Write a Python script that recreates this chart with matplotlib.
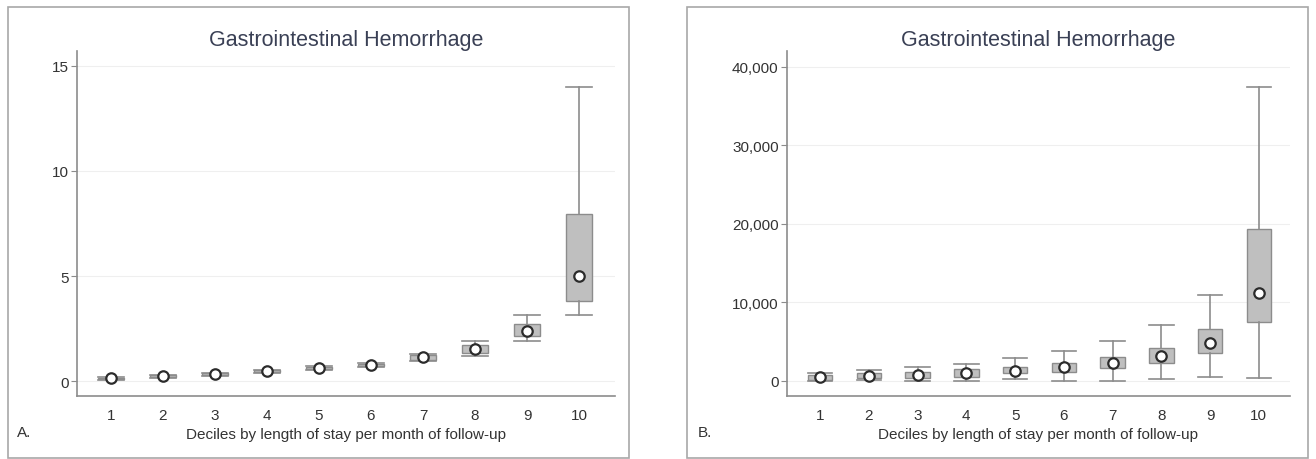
import matplotlib
matplotlib.use("Agg")
from matplotlib import pyplot as plt
from matplotlib.patches import Rectangle
from matplotlib.ticker import FuncFormatter

plt.rcParams['font.family'] = ['Liberation Sans', 'DejaVu Sans']

deciles = [1, 2, 3, 4, 5, 6, 7, 8, 9, 10]
xlabel = 'Deciles by length of stay per month of follow-up'
title = 'Gastrointestinal Hemorrhage'

# panel A: rate per month of follow-up
a_low = [0.06, 0.16, 0.26, 0.38, 0.53, 0.66, 0.95, 1.2, 1.9, 3.14]
a_q1 = [0.1, 0.2, 0.3, 0.42, 0.57, 0.7, 1.0, 1.33, 2.14, 3.8]
a_mid = [0.14, 0.24, 0.33, 0.47, 0.62, 0.76, 1.14, 1.52, 2.38, 5.0]
a_q3 = [0.17, 0.28, 0.37, 0.51, 0.66, 0.83, 1.22, 1.71, 2.71, 7.95]
a_high = [0.2, 0.31, 0.4, 0.55, 0.7, 0.88, 1.3, 1.9, 3.14, 14.0]

# panel B: costs
b_low = [0, 130, 0, 0, 250, 0, 0, 250, 500, 380]
b_q1 = [130, 380, 380, 510, 1020, 1150, 1650, 2300, 3550, 7500]
b_mid = [510, 640, 760, 1020, 1270, 1780, 2300, 3180, 4840, 11200]
b_q3 = [760, 1020, 1150, 1530, 1780, 2300, 3050, 4200, 6600, 19400]
b_high = [1020, 1400, 1780, 2170, 2930, 3820, 5100, 7130, 10950, 37450]

grey = '#8c8c8c'


def draw_panel(ax, low, q1, mid, q3, high, yticks, ylim, xlim, fmt):
    stats = []
    for i in range(len(deciles)):
        stats.append({'whislo': low[i], 'q1': q1[i], 'med': mid[i],
                      'q3': q3[i], 'whishi': high[i], 'fliers': []})
    ax.bxp(stats, positions=deciles, widths=0.5, patch_artist=True,
           showfliers=False,
           boxprops=dict(facecolor='#bfbfbf', edgecolor=grey, linewidth=1),
           whiskerprops=dict(color=grey, linewidth=1.2),
           capprops=dict(color=grey, linewidth=1.2),
           medianprops=dict(linewidth=0), capwidths=0.5)
    ax.plot(deciles, mid, 'o', markersize=7.5, markerfacecolor='white',
            markeredgecolor='#2b2b2b', markeredgewidth=1.6, zorder=5)

    ax.set_xlim(*xlim)
    ax.set_ylim(*ylim)
    ax.set_yticks(yticks)
    ax.yaxis.set_major_formatter(FuncFormatter(fmt))
    ax.set_xticks(deciles)
    ax.set_xticklabels([str(d) for d in deciles])
    ax.grid(axis='y', color='#efefef', linewidth=0.8)
    ax.set_axisbelow(True)
    for s in ['top', 'right']:
        ax.spines[s].set_visible(False)
    for s in ['left', 'bottom']:
        ax.spines[s].set_color(grey)
        ax.spines[s].set_linewidth(1.2)
    ax.tick_params(axis='y', length=4, color=grey, labelsize=11,
                   labelcolor='#333333', pad=2)
    ax.tick_params(axis='x', length=0, labelsize=11,
                   labelcolor='#333333', pad=9)
    ax.set_title(title, fontsize=15.5, color='#3a4055', pad=4)
    ax.set_xlabel(xlabel, fontsize=11, color='#333333', labelpad=3)


fig = plt.figure(figsize=(13.16, 4.6), dpi=100)
W, H = 1316, 460

# frames round the two panels
for x0, x1 in [(8, 629), (687, 1308)]:
    fig.patches.append(Rectangle((x0 / W, 1 - 459 / H), (x1 - x0) / W,
                                 (459 - 8) / H, transform=fig.transFigure,
                                 fill=False, edgecolor='#a8a8a8',
                                 linewidth=1.2))

ax1 = fig.add_axes([77 / W, 1 - 397 / H, (615 - 77) / W, (397 - 52) / H])
draw_panel(ax1, a_low, a_q1, a_mid, a_q3, a_high, [0, 5, 10, 15],
           (-0.71, 15.71), (0.35, 10.69), lambda v, p: f'{v:g}')

ax2 = fig.add_axes([787 / W, 1 - 397 / H, (1290 - 787) / W, (397 - 52) / H])
draw_panel(ax2, b_low, b_q1, b_mid, b_q3, b_high,
           [0, 10000, 20000, 30000, 40000], (-1911, 42038), (0.32, 10.64),
           lambda v, p: f'{v:,.0f}')

fig.text(17 / W, 1 - 433 / H, 'A.', fontsize=11, color='#333333',
         va='center')
fig.text(698 / W, 1 - 433 / H, 'B.', fontsize=11, color='#333333',
         va='center')

fig.savefig('out.png', dpi=100, facecolor='white')
